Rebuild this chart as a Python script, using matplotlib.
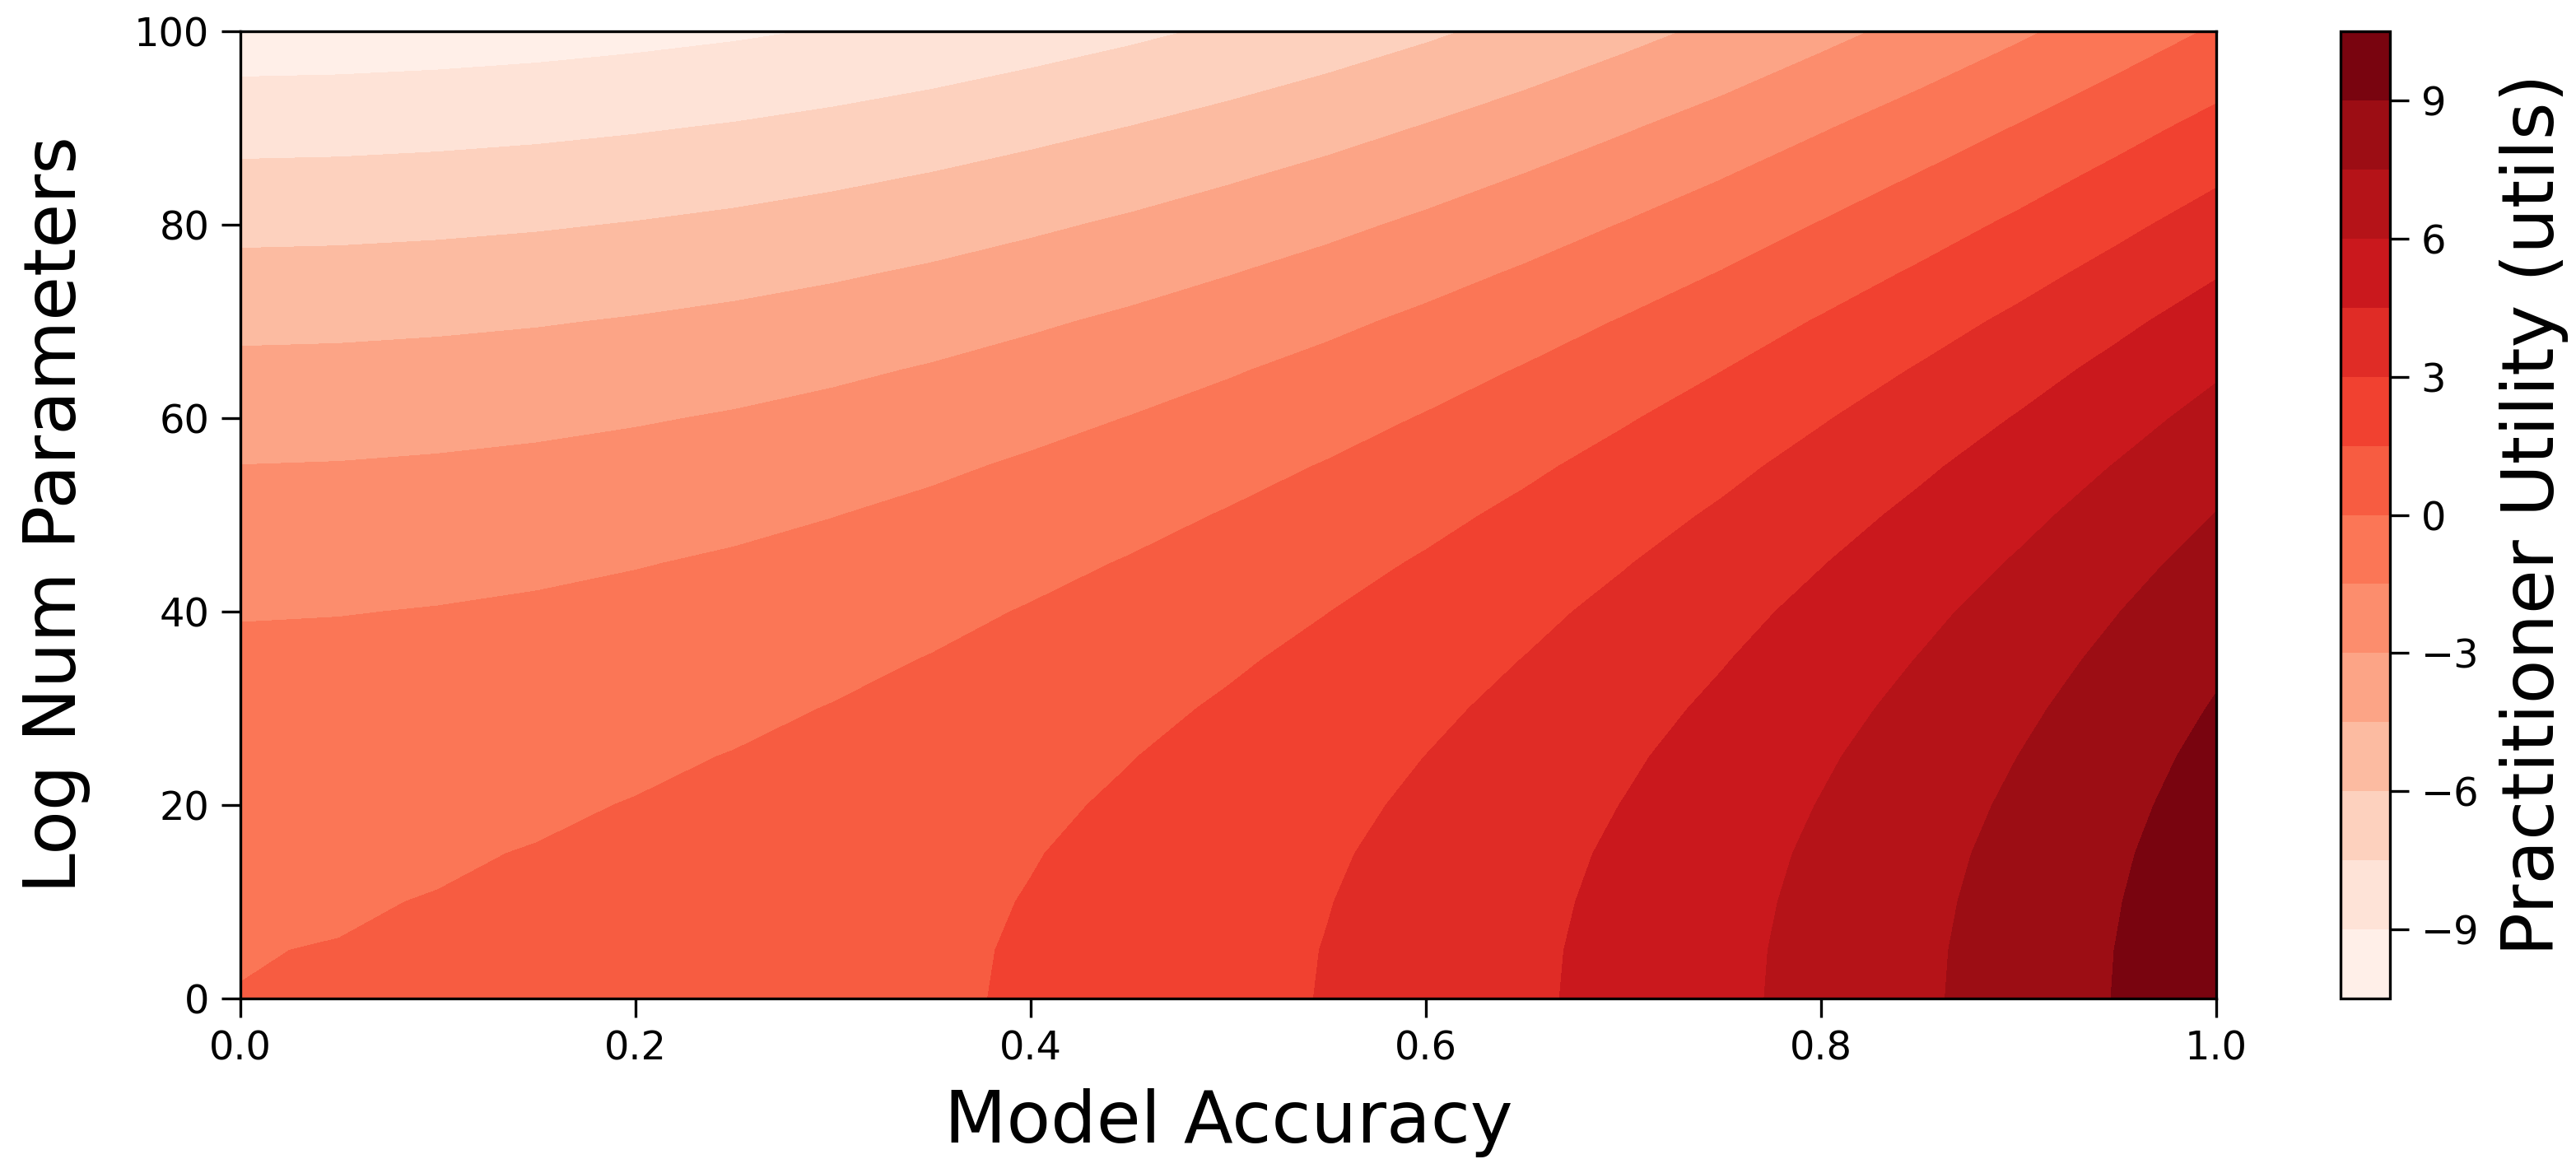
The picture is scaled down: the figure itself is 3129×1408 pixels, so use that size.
# -*- coding: utf-8 -*-
"""
practitioner utility : model accuracy vs log num parameters
(filled contour + colorbar)
"""

import numpy as np
import matplotlib
matplotlib.use('Agg')
import matplotlib.pyplot as plt


# 1. data : values
# utility along the bottom edge (log params = 0) per accuracy
accuracy = [0.0, 0.05, 0.1, 0.15, 0.2, 0.25, 0.3, 0.35, 0.4, 0.45, 0.5,
            0.55, 0.6, 0.65, 0.7, 0.75, 0.8, 0.85, 0.9, 0.95, 1.0]
acc_gain = [0.0, 0.04, 0.13, 0.26, 0.44, 0.66, 0.94, 1.27, 1.66, 2.08, 2.55,
            3.06, 3.63, 4.25, 4.93, 5.65, 6.45, 7.27, 8.13, 9.05, 10.0]

# utility along the left edge (accuracy = 0) per log num parameters
log_params = [0, 5, 10, 15, 20, 25, 30, 35, 40, 45, 50,
              55, 60, 65, 70, 75, 80, 85, 90, 95, 100]
param_cost = [0.01, -0.02, -0.1, -0.22, -0.4, -0.62, -0.9, -1.22, -1.58, -2.0, -2.47,
              -2.98, -3.55, -4.17, -4.85, -5.6, -6.38, -7.2, -8.05, -8.95, -9.85]

# contour levels / colorbar ticks
levels = [-10.5, -9, -7.5, -6, -4.5, -3, -1.5, 0, 1.5, 3, 4.5, 6, 7.5, 9, 10.5]
cbar_ticks = [-9, -6, -3, 0, 3, 6, 9]

# grid : rows = log params, cols = accuracy
utility = np.add.outer(np.array(param_cost), np.array(acc_gain))


# 2. figure
fig = plt.figure(figsize=(3129 / 300, 1408 / 300), dpi=300)
ax = fig.add_axes([0.0933, 0.1385, 0.767, 0.8345])
cax = fig.add_axes([0.9086, 0.1385, 0.0192, 0.8345])

cs = ax.contourf(accuracy, log_params, utility, levels=levels, cmap='Reds')

ax.set_xlim(0, 1)
ax.set_ylim(0, 100)
ax.set_xticks([0.0, 0.2, 0.4, 0.6, 0.8, 1.0])
ax.set_yticks([0, 20, 40, 60, 80, 100])
ax.tick_params(labelsize=11.5, length=5.5, width=0.8)

ax.set_xlabel('Model Accuracy', fontsize=21, labelpad=6)
ax.set_ylabel('Log Num Parameters', fontsize=21)
ax.yaxis.set_label_coords(-0.076, 0.5)


# 3. colorbar
cbar = fig.colorbar(cs, cax=cax, ticks=cbar_ticks)
cbar.ax.tick_params(labelsize=11.5, length=5.5, width=0.8)
cbar.set_label('Practitioner Utility (utils)', fontsize=21, labelpad=6)

fig.savefig('out.png', dpi=300)
